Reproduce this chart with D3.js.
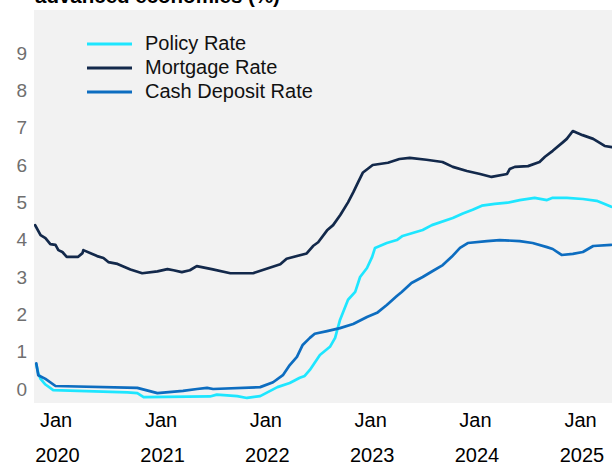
<!DOCTYPE html>
<html>
<head>
<meta charset="utf-8">
<script src="https://cdn.jsdelivr.net/npm/d3@7/dist/d3.min.js"></script>
<style>
  html, body { margin: 0; padding: 0; background: #ffffff; }
  svg { display: block; font-family: "Liberation Sans", Arial, Helvetica, sans-serif; }
</style>
</head>
<body>
<svg id="chart" width="612" height="465"></svg>
<script>
// Interest rates in advanced economies (%)
const titleText = "advanced economies (%)";

const seriesNames = ["Policy Rate", "Mortgage Rate", "Cash Deposit Rate"];
const seriesColors = ["#1ee6ff", "#13294b", "#0d6dc0"];

const policyDates = ["2019-10-26","2019-11-02","2019-11-10","2019-11-27","2019-12-24","2020-09-08","2020-10-12","2020-11-03","2021-06-22","2021-07-16","2021-09-25","2021-10-29","2021-12-14","2022-01-08","2022-02-12","2022-03-27","2022-05-01","2022-05-18","2022-06-05","2022-07-10","2022-08-14","2022-09-01","2022-09-18","2022-10-16","2022-11-10","2022-11-27","2022-12-21","2023-01-08","2023-01-18","2023-02-28","2023-04-04","2023-04-24","2023-07-03","2023-08-04","2023-10-16","2023-11-20","2023-12-24","2024-01-25","2024-03-10","2024-04-24","2024-06-05","2024-07-27","2024-09-08","2024-09-28","2024-11-16","2025-01-11","2025-02-28","2025-03-26","2025-04-20"];
const policyValues = [0.66,0.42,0.27,0.12,-0.03,-0.09,-0.11,-0.22,-0.2,-0.15,-0.19,-0.24,-0.19,-0.09,0.05,0.16,0.30,0.35,0.51,0.91,1.13,1.37,1.85,2.39,2.6,3.0,3.24,3.54,3.78,3.91,3.99,4.1,4.26,4.39,4.58,4.7,4.8,4.91,4.96,4.99,5.06,5.12,5.06,5.12,5.12,5.09,5.04,4.96,4.88];

const mortgageDates = ["2019-10-22","2019-11-10","2019-11-27","2019-12-14","2020-01-01","2020-01-11","2020-01-25","2020-02-09","2020-03-20","2020-04-04","2020-04-07","2020-05-25","2020-06-16","2020-07-03","2020-08-04","2020-09-18","2020-10-29","2020-12-21","2021-01-25","2021-02-15","2021-03-16","2021-04-13","2021-05-07","2021-06-28","2021-09-01","2021-11-19","2022-02-22","2022-03-16","2022-05-25","2022-06-16","2022-07-04","2022-08-04","2022-08-25","2022-09-19","2022-10-16","2022-11-04","2022-11-19","2022-12-07","2023-01-10","2023-03-04","2023-04-13","2023-05-19","2023-07-16","2023-09-10","2023-10-16","2023-12-04","2024-01-19","2024-02-28","2024-04-22","2024-05-01","2024-05-19","2024-07-04","2024-08-13","2024-09-01","2024-09-28","2024-11-04","2024-11-16","2024-12-07","2025-01-10","2025-02-16","2025-03-28","2025-04-22"];
const mortgageValues = [4.39,4.12,4.04,3.88,3.86,3.72,3.67,3.54,3.54,3.64,3.72,3.56,3.51,3.40,3.35,3.2,3.1,3.15,3.21,3.18,3.13,3.18,3.29,3.21,3.1,3.1,3.34,3.49,3.63,3.83,3.93,4.25,4.39,4.66,5.0,5.28,5.52,5.8,6.0,6.06,6.16,6.19,6.14,6.08,5.95,5.84,5.76,5.68,5.76,5.89,5.95,5.97,6.08,6.22,6.38,6.62,6.7,6.91,6.8,6.7,6.51,6.48];

const depositDates = ["2019-10-26","2019-11-02","2019-11-27","2020-01-01","2020-10-12","2020-12-21","2021-03-20","2021-05-08","2021-06-12","2021-07-03","2021-12-14","2022-01-28","2022-03-03","2022-03-27","2022-04-21","2022-05-11","2022-06-05","2022-06-22","2022-08-04","2022-09-18","2022-11-03","2022-12-21","2023-01-25","2023-02-28","2023-04-04","2023-04-21","2023-05-25","2023-07-03","2023-08-07","2023-09-11","2023-10-12","2023-11-10","2023-12-07","2024-02-12","2024-03-27","2024-06-05","2024-07-20","2024-09-08","2024-09-28","2024-10-29","2024-12-07","2025-01-11","2025-02-16","2025-04-20"];
const depositValues = [0.69,0.37,0.27,0.08,0.03,-0.11,-0.05,0.0,0.03,0.0,0.05,0.18,0.37,0.64,0.86,1.18,1.37,1.48,1.55,1.63,1.74,1.93,2.04,2.25,2.49,2.6,2.84,3.0,3.16,3.32,3.54,3.78,3.91,3.96,3.99,3.96,3.91,3.8,3.75,3.59,3.62,3.67,3.83,3.86];

const xTickDates = ["2020-01-01","2021-01-01","2022-01-01","2023-01-01","2024-01-01","2025-01-01"];
const xTickMonth = "Jan";
const yTicks = [0,1,2,3,4,5,6,7,8,9];

const parse = d3.timeParse("%Y-%m-%d");
const svg = d3.select("#chart");

const plot = { left: 34, right: 612, top: 10, bottom: 403 };

const x = d3.scaleTime()
  .domain([parse("2020-01-01"), parse("2025-01-01")])
  .range([55.5, 580]);
const y = d3.scaleLinear().domain([0, 9]).range([389, 53]);

// Heading (its upper part runs off the top edge)
svg.append("text")
  .attr("x", 35).attr("y", 3)
  .attr("font-size", 20.5).attr("font-weight", "bold").attr("fill", "#000")
  .text(titleText);

// Plot background
svg.append("rect")
  .attr("x", plot.left).attr("y", plot.top)
  .attr("width", plot.right - plot.left).attr("height", plot.bottom - plot.top)
  .attr("fill", "#f2f2f2");

svg.append("clipPath").attr("id", "plot-clip")
  .append("rect")
  .attr("x", plot.left).attr("y", plot.top)
  .attr("width", plot.right - plot.left).attr("height", plot.bottom - plot.top);

// Y axis
const yAxis = svg.append("g")
  .attr("transform", "translate(27,0)")
  .call(d3.axisLeft(y).tickValues(yTicks).tickSize(0).tickPadding(0).tickFormat(d3.format("d")));
yAxis.select(".domain").remove();
yAxis.selectAll("text")
  .attr("font-family", "Liberation Sans, Arial, sans-serif")
  .attr("font-size", 19).attr("fill", "#6f6f6f");

// X axis: month on the first line, year below
const xAxis = svg.append("g")
  .attr("transform", "translate(0,412)")
  .call(d3.axisBottom(x).tickValues(xTickDates.map(parse)).tickSize(0).tickPadding(0)
    .tickFormat(() => xTickMonth));
xAxis.select(".domain").remove();
xAxis.selectAll("text")
  .attr("font-family", "Liberation Sans, Arial, sans-serif")
  .attr("font-size", 20).attr("fill", "#000")
  .attr("dy", null).attr("y", 15);
xAxis.selectAll(".tick").append("text")
  .attr("font-family", "Liberation Sans, Arial, sans-serif")
  .attr("font-size", 20).attr("fill", "#000")
  .attr("text-anchor", "middle")
  .attr("x", 1.5).attr("y", 50)
  .text(d => d3.timeFormat("%Y")(d));

// Lines
const line = d3.line()
  .x(d => x(d[0]))
  .y(d => y(d[1]));

const series = [
  { name: seriesNames[0], color: seriesColors[0], dates: policyDates, values: policyValues },
  { name: seriesNames[1], color: seriesColors[1], dates: mortgageDates, values: mortgageValues },
  { name: seriesNames[2], color: seriesColors[2], dates: depositDates, values: depositValues }
];

const lines = svg.append("g").attr("clip-path", "url(#plot-clip)");
// policy and deposit underneath, mortgage on top
[series[0], series[2], series[1]].forEach(s => {
  const pts = s.dates.map((d, i) => [parse(d), s.values[i]]);
  lines.append("path")
    .datum(pts)
    .attr("fill", "none")
    .attr("stroke", s.color)
    .attr("stroke-width", 2.7)
    .attr("stroke-linejoin", "round")
    .attr("stroke-linecap", "round")
    .attr("d", line);
});

// Legend
const legend = svg.append("g");
series.forEach((s, i) => {
  const ly = 44 + i * 24;
  legend.append("line")
    .attr("x1", 87).attr("x2", 132)
    .attr("y1", ly).attr("y2", ly)
    .attr("stroke", s.color).attr("stroke-width", 3);
  legend.append("text")
    .attr("x", 145).attr("y", ly + 6)
    .attr("font-size", 20).attr("fill", "#111")
    .text(s.name);
});
</script>
</body>
</html>
